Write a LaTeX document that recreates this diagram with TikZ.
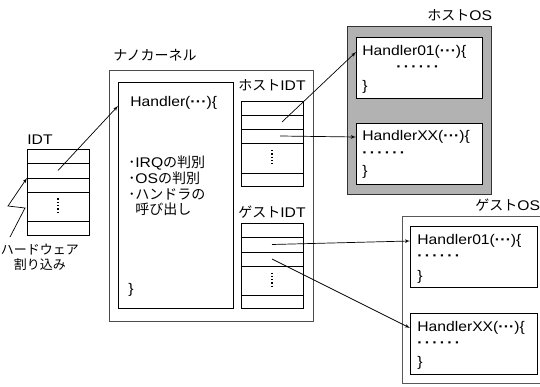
\documentclass[tikz,border=0pt]{standalone}
\usepackage{fontspec}
\setmainfont{Liberation Sans}[FakeStretch=1.12]
\newfontfamily\cjk{Noto Sans CJK JP}
\newcommand{\jp}[1]{{\cjk #1}}
\newcommand{\pdots}{\textbf{·\kern0.2pt·\kern0.2pt·}}
\newcommand{\rowdots}{\textbf{·\kern2.3pt·\kern2.3pt·\kern2.3pt·\kern2.3pt·\kern2.3pt·}}
\usetikzlibrary{arrows, calc, positioning}

\begin{document}
\begin{tikzpicture}[x=1pt, y=-1pt, >=latex', line width=0.7pt, font=\fontsize{14}{15.7}\selectfont,
    row/.style={draw, minimum width=62pt, inner sep=0pt, outer sep=0pt},
    fnbox/.style={draw, fill=white, minimum width=126pt, minimum height=61pt, anchor=north west, inner sep=0pt},
    txt/.style={anchor=west, inner sep=1pt}]
    \useasboundingbox (0,0) rectangle (540,387);
    \clip (0,0) rectangle (540,387);

    % IDT
    \node [txt] (idtlabel) at (26,140) {IDT};
    \node [row, minimum height=14pt, anchor=north] (idt1) at (58,149) {};
    \node [row, minimum height=15pt, below=0pt of idt1] (idt2) {};
    \node [row, minimum height=14pt, below=0pt of idt2] (idt3) {};
    \node [row, minimum height=29pt, below=0pt of idt3] (idt4) {};
    \node [row, minimum height=14pt, below=0pt of idt4] (idt5) {};
    \draw [dotted, line width=1.3pt] ($(idt4.center)+(0,-8)$) -- ($(idt4.center)+(0,8)$);

    \node [align=center, font=\cjk\fontsize{13}{15}\selectfont] (hw) at (40,257) {ハードウェア\\割り込み};
    \coordinate (hwstart) at (10,237);
    \draw [->] (hwstart) -- ++(15,-29) -- ++(-17,-2) -- (idt2.south west);

    % nano kernel
    \node [draw=black!70, minimum width=204pt, minimum height=251pt, anchor=north west, inner sep=0pt] (nano) at (109,70) {};
    \node [txt] (nanolabel) at (112,55) {\jp{ナノカーネル}};
    \node [draw, minimum width=115pt, minimum height=226pt, anchor=north west, inner sep=0pt] (kbox) at (118,82) {};
    \node [txt] (ktitle) at (129,103) {Handler(\pdots)\{};
    \node [txt, align=left] (kbody) at (127,186) {\jp{･}IRQ\jp{の判別}\\\jp{･}OS\jp{の判別}\\\jp{･ハンドラの}\\\jp{\hphantom{･}呼び出し}};
    \node [txt] (kend) at (127,290) {\}};
    \coordinate (kin) at (118,106);

    % host IDT
    \node (hidtlabel) at (272,85) {\jp{ホスト}IDT};
    \node [row, minimum height=14pt, anchor=north] (hidt1) at (272,101) {};
    \node [row, minimum height=14pt, below=0pt of hidt1] (hidt2) {};
    \node [row, minimum height=14pt, below=0pt of hidt2] (hidt3) {};
    \node [row, minimum height=30pt, below=0pt of hidt3] (hidt4) {};
    \node [row, minimum height=13pt, below=0pt of hidt4] (hidt5) {};
    \draw [dotted, line width=1.3pt] ($(hidt4.center)+(0,-8)$) -- ($(hidt4.center)+(0,8)$);

    % guest IDT
    \node (gidtlabel) at (272,212) {\jp{ゲスト}IDT};
    \node [row, minimum height=14pt, anchor=north] (gidt1) at (272,223) {};
    \node [row, minimum height=15pt, below=0pt of gidt1] (gidt2) {};
    \node [row, minimum height=14pt, below=0pt of gidt2] (gidt3) {};
    \node [row, minimum height=29pt, below=0pt of gidt3] (gidt4) {};
    \node [row, minimum height=13pt, below=0pt of gidt4] (gidt5) {};
    \draw [dotted, line width=1.3pt] ($(gidt4.center)+(0,-8)$) -- ($(gidt4.center)+(0,8)$);

    % host OS
    \node [txt] (hoslabel) at (426,15) {\jp{ホスト}OS};
    \node [draw=black!80, fill=black!30, minimum width=144pt, minimum height=168pt, anchor=north west, inner sep=0pt] (hos) at (347,26) {};
    \node [fnbox] (hbox1) at (356,37) {};
    \node [txt] (hh01) at (361,52) {Handler01(\pdots)\{};
    \node [txt] (hdots1) at (395,69) {\rowdots};
    \node [txt] (hend1) at (361,87) {\}};
    \node [fnbox] (hbox2) at (356,123) {};
    \node [txt] (hhxx) at (361,137) {HandlerXX(\pdots)\{};
    \node [txt] (hdots2) at (361,155) {\rowdots};
    \node [txt] (hend2) at (361,172) {\}};

    % guest OS
    \node [txt] (goslabel) at (474,205) {\jp{ゲスト}OS};
    \node [draw=black!65, minimum width=150pt, minimum height=167pt, anchor=north west, inner sep=0pt] (gos) at (402,216) {};
    \node [fnbox, minimum width=127pt] (gbox1) at (410,226) {};
    \node [txt] (gh01) at (416,241) {Handler01(\pdots)\{};
    \node [txt] (gdots1) at (416,258) {\rowdots};
    \node [txt] (gend1) at (416,277) {\}};
    \node [fnbox, minimum width=127pt] (gbox2) at (410,313) {};
    \node [txt] (ghxx) at (416,328) {HandlerXX(\pdots)\{};
    \node [txt] (gdots2) at (416,345) {\rowdots};
    \node [txt] (gend2) at (416,363) {\}};

    % arrows
    \draw [->] (idt2.center) -- (kin);
    \draw [->] ($(hidt2.center)+(10,0)$) -- (hbox1.west |- hh01.west);
    \draw [->] ($(hidt3.center)+(8,0)$) -- (hbox2.west |- hhxx.west);
    \draw [->] (gidt2.center) -- (gbox1.west |- gh01.west);
    \draw [->] (gidt3.center) -- (gbox2.west |- ghxx.west);
\end{tikzpicture}
\end{document}
